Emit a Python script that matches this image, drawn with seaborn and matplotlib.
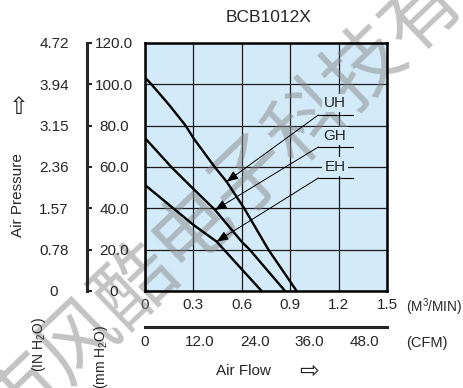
import numpy as np
import pandas as pd
import matplotlib
matplotlib.use("Agg")
import matplotlib.pyplot as plt
import seaborn as sns

# данные (читаем с картинки)
title = "BCB1012X"
models = ["UH", "GH", "EH"]
flow_uh = [0, 0.04, 0.15, 0.252, 0.30, 0.38, 0.432, 0.506, 0.615, 0.765, 0.94]
p_uh = [103.3, 100, 90, 80, 74, 65.5, 60, 52.9, 40, 20, 0]
flow_gh = [0, 0.163, 0.30, 0.434, 0.60, 0.649, 0.868]
p_gh = [74, 60, 49.4, 39.2, 23.8, 20, 0]
flow_eh = [0, 0.30, 0.444, 0.60, 0.723]
p_eh = [51.3, 32, 23.9, 10.5, 0]

x_ticks = [0, 0.3, 0.6, 0.9, 1.2, 1.5]
x_labels = ["0", "0.3", "0.6", "0.9", "1.2", "1.5"]
mm_ticks = [0, 20, 40, 60, 80, 100, 120]
mm_labels = ["0", "20.0", "40.0", "60.0", "80.0", "100.0", "120.0"]
in_labels = ["0", "0.78", "1.57", "2.36", "3.15", "3.94", "4.72"]
cfm_ticks = [0, 12, 24, 36, 48]
cfm_labels = ["0", "12.0", "24.0", "36.0", "48.0"]
watermark = "深圳市风酷电子科技有限公司"

# настройки
sns.set_style("white")
plt.rcParams['font.family'] = ['Liberation Sans', 'DejaVu Sans']
plt.rcParams['font.size'] = 11
plt.rcParams['mathtext.fontset'] = 'custom'
plt.rcParams['mathtext.rm'] = 'Liberation Sans'

W, H = 464, 388
fig = plt.figure(figsize=(W / 100, H / 100), dpi=100)


def fx(px):
    return px / W


def fy(py):
    return 1 - py / H


bg = "#d3eaf8"

df = pd.concat([
    pd.DataFrame({"flow": flow_uh, "p": p_uh, "model": "UH"}),
    pd.DataFrame({"flow": flow_gh, "p": p_gh, "model": "GH"}),
    pd.DataFrame({"flow": flow_eh, "p": p_eh, "model": "EH"}),
])

# основной график
ax = fig.add_axes([fx(145), fy(291), fx(387) - fx(145), fy(43) - fy(291)])
ax.set_facecolor(bg)
sns.lineplot(data=df, x="flow", y="p", hue="model", palette=["black"] * 3,
             sort=False, legend=False, linewidth=1.7, ax=ax, zorder=3)
ax.set_xlim(0, 1.5)
ax.set_ylim(0, 120)
ax.set_xticks(x_ticks)
ax.set_xticklabels(x_labels)
ax.set_yticks(mm_ticks)
ax.set_yticklabels([])
ax.tick_params(axis='x', length=0, pad=5)
ax.tick_params(axis='y', length=0)
ax.grid(True, color="#1a1a1a", linewidth=0.9)
ax.set_axisbelow(True)
ax.set_xlabel("")
ax.set_ylabel("")
for s in ax.spines.values():
    s.set_linewidth(1.8)
    s.set_color("black")

# подписи кривых со стрелками
label_y = {"UH": 90.8, "GH": 75.0, "EH": 60.2}
line_y = {"UH": 85.2, "GH": 69.7, "EH": 54.7}
tip_x = {"UH": 0.506, "GH": 0.434, "EH": 0.444}
curves = {"UH": (flow_uh, p_uh), "GH": (flow_gh, p_gh), "EH": (flow_eh, p_eh)}
for m in models:
    fl, pr = curves[m]
    tx = tip_x[m]
    ty = np.interp(tx, fl, pr)
    ax.text(1.178, label_y[m], m, ha='center', va='center', fontsize=11, zorder=4,
            bbox=dict(facecolor=bg, edgecolor='none', pad=1.5))
    ax.plot([1.075, 1.287], [line_y[m], line_y[m]], color='black', lw=0.8, zorder=4)
    ax.annotate("", xy=(tx, ty), xytext=(1.075, line_y[m]),
                arrowprops=dict(arrowstyle='-|>,head_length=0.5,head_width=0.2',
                                color='black', lw=0.7,
                                mutation_scale=14, shrinkA=0, shrinkB=0),
                zorder=4)

# водяной знак
ax.text(fx(252), fy(175), watermark, transform=fig.transFigure, rotation=43.7,
        rotation_mode='anchor', ha='center', va='center', fontsize=57,
        family=['Noto Sans CJK SC', 'DejaVu Sans'], fontweight='light',
        color='#888888', alpha=0.5, zorder=2, clip_on=False)

# ось мм H2O
ax_mm = fig.add_axes([fx(87), fy(291), 0, fy(43) - fy(291)])
ax_mm.set_facecolor('none')
ax_mm.set_ylim(0, 120)
for k in ['left', 'top', 'bottom']:
    ax_mm.spines[k].set_visible(False)
ax_mm.spines['right'].set_linewidth(2.2)
ax_mm.set_xticks([])
ax_mm.yaxis.tick_right()
ax_mm.set_yticks(mm_ticks)
ax_mm.set_yticklabels(mm_labels, ha='center')
ax_mm.tick_params(axis='y', direction='out', length=3.6, width=1.5, pad=15.8)

# ось IN H2O (только подписи)
ax_in = fig.add_axes([fx(87), fy(291), 0, fy(43) - fy(291)])
ax_in.set_facecolor('none')
ax_in.set_ylim(0, 120)
for s in ax_in.spines.values():
    s.set_visible(False)
ax_in.set_xticks([])
ax_in.set_yticks(mm_ticks)
ax_in.set_yticklabels(in_labels, ha='center')
ax_in.tick_params(axis='y', length=0, pad=23.8)

# ось CFM
ax_cfm = fig.add_axes([fx(145), fy(326.7), fx(387) - fx(145), 0])
ax_cfm.set_facecolor('none')
ax_cfm.set_xlim(0, 1.5 * 35.315)
for k in ['left', 'top', 'right']:
    ax_cfm.spines[k].set_visible(False)
ax_cfm.spines['bottom'].set_linewidth(2.2)
ax_cfm.set_yticks([])
ax_cfm.set_xticks(cfm_ticks)
ax_cfm.set_xticklabels(cfm_labels)
ax_cfm.tick_params(axis='x', direction='in', length=3.8, width=1.5, pad=5.8)

# тексты
fig.text(fx(269), fy(18), title, ha='center', va='center', fontsize=12.5)
fig.text(fx(406), fy(306.7), "(M$^3$/MIN)", ha='left', va='center', fontsize=9.8)
fig.text(fx(406), fy(343), "(CFM)", ha='left', va='center', fontsize=10.5)
fig.text(fx(243.5), fy(370.7), "Air Flow", ha='center', va='center', fontsize=11)
fig.text(fx(309), fy(370.7), "⇨", ha='center', va='center', fontsize=17,
         family='DejaVu Sans')
fig.text(fx(19), fy(107.5), "⇧", ha='center', va='center', fontsize=17,
         family='DejaVu Sans')
fig.text(fx(18), fy(195), "Air Pressure", ha='center', va='center', rotation=90,
         fontsize=11)
fig.text(fx(39), fy(345), "(IN H$_2$O)", ha='center', va='center', rotation=90,
         fontsize=10)
fig.text(fx(101), fy(357), "(mm H$_2$O)", ha='center', va='center', rotation=90,
         fontsize=10)

fig.savefig("out.png", dpi=100)
